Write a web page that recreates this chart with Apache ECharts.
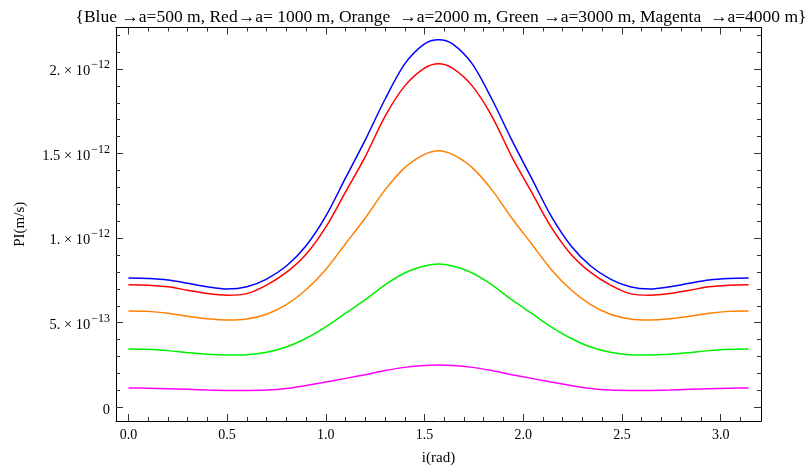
<!DOCTYPE html>
<html><head><meta charset="utf-8">
<script src="https://cdn.jsdelivr.net/npm/echarts@6/dist/echarts.min.js"></script>
<style>html,body{margin:0;padding:0;background:#fff}#c{width:808px;height:468px}</style>
</head><body><div id="c"></div>
<script>
// x in rad, values in units of 1e-12 m/s
const xVals = [0,0.1,0.2,0.3,0.4,0.5,0.6,0.7,0.8,0.9,1.0,1.1,1.2,1.3,1.4,1.5,1.5708,
  1.6416,1.7416,1.8416,1.9416,2.0416,2.1416,2.2416,2.3416,2.4416,2.5416,2.6416,2.7416,2.8416,2.9416,3.0416,3.1416];
const blue = [0.764,0.761,0.752,0.733,0.712,0.699,0.712,0.758,0.835,0.955,1.130,1.356,1.581,1.821,2.030,2.148,2.173,
  2.148,2.030,1.821,1.581,1.356,1.130,0.955,0.835,0.758,0.712,0.699,0.712,0.733,0.752,0.761,0.764];
const red = [0.725,0.722,0.712,0.692,0.672,0.662,0.672,0.722,0.797,0.905,1.065,1.273,1.482,1.720,1.900,2.005,2.031,
  2.005,1.900,1.720,1.482,1.273,1.065,0.905,0.797,0.722,0.672,0.662,0.672,0.692,0.712,0.722,0.725];
const orange = [0.569,0.567,0.556,0.538,0.523,0.516,0.522,0.550,0.607,0.695,0.815,0.967,1.119,1.285,1.417,1.495,1.517,
  1.495,1.417,1.285,1.119,0.967,0.815,0.695,0.607,0.550,0.522,0.516,0.523,0.538,0.556,0.567,0.569];
const green = [0.345,0.343,0.335,0.323,0.313,0.309,0.311,0.325,0.356,0.408,0.476,0.556,0.636,0.724,0.794,0.835,0.847,
  0.835,0.794,0.724,0.636,0.556,0.476,0.408,0.356,0.325,0.311,0.309,0.313,0.323,0.335,0.343,0.345];
const magenta = [0.114,0.113,0.110,0.106,0.102,0.100,0.100,0.102,0.111,0.129,0.149,0.171,0.193,0.217,0.236,0.247,0.250,
  0.247,0.236,0.217,0.193,0.171,0.149,0.129,0.111,0.102,0.100,0.100,0.102,0.106,0.110,0.113,0.114];

const xMajor = [0,0.5,1.0,1.5,2.0,2.5,3.0];
const xMinor = [0.1,0.2,0.3,0.4,0.6,0.7,0.8,0.9,1.1,1.2,1.3,1.4,1.6,1.7,1.8,1.9,2.1,2.2,2.3,2.4,2.6,2.7,2.8,2.9,3.1];
const xLabels = ['0.0','0.5','1.0','1.5','2.0','2.5','3.0'];
const yMajor = [0,0.5,1.0,1.5,2.0];
const yMinor = [0.1,0.2,0.3,0.4,0.6,0.7,0.8,0.9,1.1,1.2,1.3,1.4,1.6,1.7,1.8,1.9,2.1,2.2];
const yMant = ['0','5.','1.','1.5','2.'];
const yExp = ['','\u221213','\u221212','\u221212','\u221212'];

const titleText = '{Blue \u2192a=500 m, Red\u2192a= 1000 m, Orange  \u2192a=2000 m, Green \u2192a=3000 m, Magenta  \u2192a=4000 m}';
const FONT = '"Liberation Serif", "DejaVu Serif", serif';

const seriesDefs = [
  {name:'Blue', data: blue, color:'#0000ff'},
  {name:'Red', data: red, color:'#ff0000'},
  {name:'Orange', data: orange, color:'#ff8000'},
  {name:'Green', data: green, color:'#00f000'},
  {name:'Magenta', data: magenta, color:'#ff00ff'}
];

const XMIN = -0.0628, XMAX = 3.2044, YMIN = -0.081, YMAX = 2.245;

function xAxisDef(pos, ticks, len, showLabel, showLine){
  return {
    type:'value', position: pos, min: XMIN, max: XMAX,
    axisLine:{show: showLine, onZero:false, lineStyle:{color:'#000', width:1}},
    axisTick:{show:true, inside:true, length:len, customValues: ticks, lineStyle:{color:'#333', width:1}},
    axisLabel:{show: showLabel, customValues: ticks, margin: 7, color:'#000', fontFamily: FONT, fontSize: 14,
      formatter: v => { const i = xMajor.findIndex(t => Math.abs(t - v) < 1e-9); return i < 0 ? '' : xLabels[i]; }},
    splitLine:{show:false}
  };
}
function yAxisDef(pos, ticks, len, showLabel, showLine){
  return {
    type:'value', position: pos, min: YMIN, max: YMAX,
    axisLine:{show: showLine, onZero:false, lineStyle:{color:'#000', width:1}},
    axisTick:{show:true, inside:true, length:len, customValues: ticks, lineStyle:{color:'#333', width:1}},
    axisLabel:{show: showLabel, customValues: ticks, margin: 6, color:'#000', fontFamily: FONT, fontSize: 14,
      formatter: v => {
        const i = yMajor.findIndex(t => Math.abs(t - v) < 1e-9);
        if (i < 0) return '';
        if (!yExp[i]) return '{m|' + yMant[i] + '}';
        return '{m|' + yMant[i] + ' \u00d7 10}{e|' + yExp[i] + '}';
      },
      rich:{
        m:{fontFamily: FONT, fontSize: 14.5, color:'#000', verticalAlign:'bottom', lineHeight: 20},
        e:{fontFamily: FONT, fontSize: 12, color:'#000', verticalAlign:'top', lineHeight: 20, padding:[0,0,0,1]}
      }},
    splitLine:{show:false}
  };
}

const chart = echarts.init(document.getElementById('c'), null, {renderer:'canvas'});
chart.setOption({
  animation:false,
  backgroundColor:'#fff',
  title:{text: titleText, left: 436, textAlign:'center', top: 3,
    textStyle:{fontFamily: FONT, fontSize: 17.5, fontWeight:'normal', color:'#000'}},
  grid:{left:116, right:47, top:27.5, bottom:47, containLabel:false, outerBoundsMode:'none'},
  xAxis:[
    Object.assign(xAxisDef('bottom', xMajor, 7, true, true), {name:'i(rad)', nameLocation:'middle', nameGap: 30,
      nameTextStyle:{fontFamily: FONT, fontSize: 15, color:'#000'}}),
    xAxisDef('bottom', xMinor, 4, false, false),
    xAxisDef('top', xMajor, 7, false, true),
    xAxisDef('top', xMinor, 4, false, false)
  ],
  yAxis:[
    Object.assign(yAxisDef('left', yMajor, 7, true, true), {name:'PI(m/s)', nameLocation:'middle', nameGap: 88,
      nameRotate: 90, nameTextStyle:{fontFamily: FONT, fontSize: 15, color:'#000'}}),
    yAxisDef('left', yMinor, 4, false, false),
    yAxisDef('right', yMajor, 7, false, true),
    yAxisDef('right', yMinor, 4, false, false)
  ],
  series: seriesDefs.map(s => ({
    name: s.name, type:'line', xAxisIndex:0, yAxisIndex:0, showSymbol:false, smooth:0.3,
    lineStyle:{color:s.color, width:1.5}, itemStyle:{color:s.color},
    data: xVals.map((x, i) => [x, s.data[i]])
  }))
});
</script>
</body></html>
